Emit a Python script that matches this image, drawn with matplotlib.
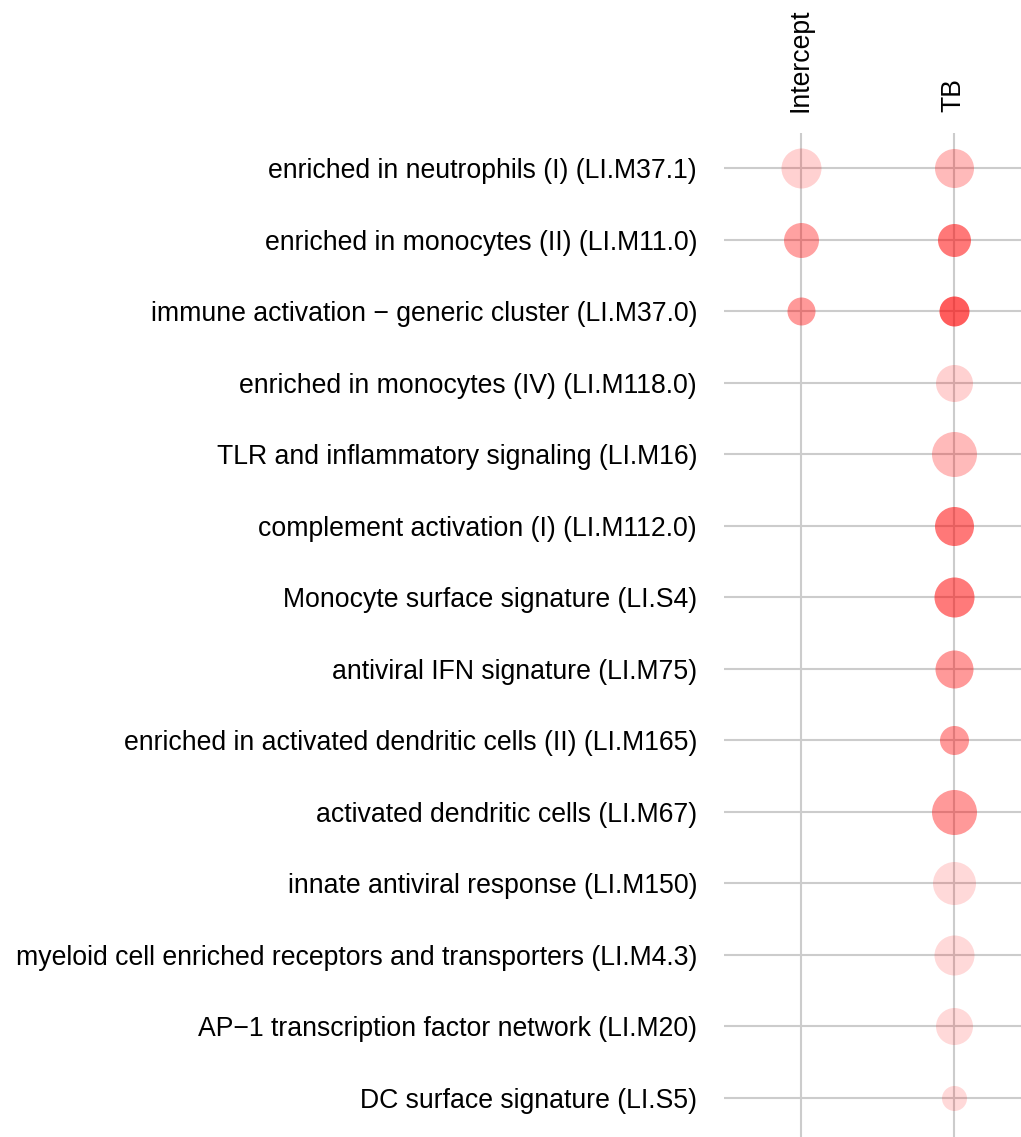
import matplotlib.pyplot as plt
import numpy as np

plt.rcParams['font.family'] = ['Liberation Sans', 'DejaVu Sans']

# modulos (filas) y contrastes (columnas)
modulos = [
    "enriched in neutrophils (I) (LI.M37.1)",
    "enriched in monocytes (II) (LI.M11.0)",
    "immune activation \u2212 generic cluster (LI.M37.0)",
    "enriched in monocytes (IV) (LI.M118.0)",
    "TLR and inflammatory signaling (LI.M16)",
    "complement activation (I) (LI.M112.0)",
    "Monocyte surface signature (LI.S4)",
    "antiviral IFN signature (LI.M75)",
    "enriched in activated dendritic cells (II) (LI.M165)",
    "activated dendritic cells (LI.M67)",
    "innate antiviral response (LI.M150)",
    "myeloid cell enriched receptors and transporters (LI.M4.3)",
    "AP\u22121 transcription factor network (LI.M20)",
    "DC surface signature (LI.S5)",
]
contrastes = ["Intercept", "TB"]

# tamano del punto (efecto) y la intensidad del color (significancia)
# None = no hay punto
efecto_intercept = [40, 35, 28, None, None, None, None, None, None, None, None, None, None, None]
signif_intercept = [0.18, 0.37, 0.40, None, None, None, None, None, None, None, None, None, None, None]
efecto_tb = [39, 33, 30, 37, 45, 39, 40, 38, 29, 45, 43, 40, 37, 25]
signif_tb = [0.27, 0.53, 0.64, 0.18, 0.27, 0.53, 0.52, 0.40, 0.40, 0.40, 0.15, 0.15, 0.15, 0.15]

fig = plt.figure(figsize=(10.21, 11.37), dpi=100)
ax = fig.add_axes([724/1021, 0, 297/1021, 1 - 133/1137])

# rejilla
for i in range(len(modulos)):
    ax.axhline(i, color="#cccccc", lw=1.5, zorder=1)
for j in range(len(contrastes)):
    ax.axvline(j + 1, color="#cccccc", lw=1.5, zorder=1)

# puntos
for j, (ef, sg) in enumerate([(efecto_intercept, signif_intercept), (efecto_tb, signif_tb)]):
    for i in range(len(modulos)):
        if ef[i] is None:
            continue
        d = ef[i] * 0.72
        ax.scatter(j + 1, i, s=d**2, color="red", alpha=sg[i], lw=0, zorder=2)

ax.set_xlim(0.497, 2.44)
ax.set_ylim(13.545, -0.49)
ax.set_yticks(range(len(modulos)))
ax.set_yticklabels(modulos, fontsize=19.2)
ax.set_xticks([1, 2])
ax.set_xticklabels(contrastes, rotation=90, fontsize=19.2)
ax.xaxis.tick_top()
ax.tick_params(axis="y", length=0, pad=19.4)
ax.tick_params(axis="x", length=0, pad=15)
for s in ax.spines.values():
    s.set_visible(False)

plt.savefig("out.png", dpi=100)
